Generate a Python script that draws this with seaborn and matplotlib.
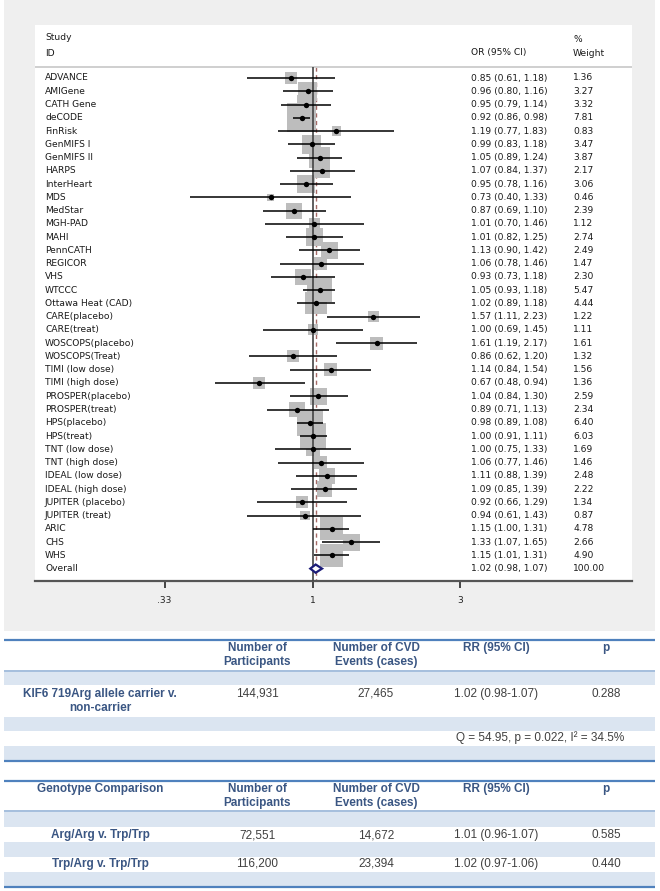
import numpy as np
import pandas as pd
import matplotlib.pyplot as plt
import matplotlib.transforms as mtransforms
from matplotlib.patches import Rectangle
import seaborn as sns

# forest plot data
studies = ["ADVANCE", "AMIGene", "CATH Gene", "deCODE", "FinRisk", "GenMIFS I",
           "GenMIFS II", "HARPS", "InterHeart", "MDS", "MedStar", "MGH-PAD", "MAHI",
           "PennCATH", "REGICOR", "VHS", "WTCCC", "Ottawa Heat (CAD)", "CARE(placebo)",
           "CARE(treat)", "WOSCOPS(placebo)", "WOSCOPS(Treat)", "TIMI (low dose)",
           "TIMI (high dose)", "PROSPER(placebo)", "PROSPER(treat)", "HPS(placebo)",
           "HPS(treat)", "TNT (low dose)", "TNT (high dose)", "IDEAL (low dose)",
           "IDEAL (high dose)", "JUPITER (placebo)", "JUPITER (treat)", "ARIC", "CHS", "WHS"]
odds = [0.85, 0.96, 0.95, 0.92, 1.19, 0.99, 1.05, 1.07, 0.95, 0.73, 0.87, 1.01, 1.01,
        1.13, 1.06, 0.93, 1.05, 1.02, 1.57, 1.00, 1.61, 0.86, 1.14, 0.67, 1.04, 0.89,
        0.98, 1.00, 1.00, 1.06, 1.11, 1.09, 0.92, 0.94, 1.15, 1.33, 1.15]
ci_lo = [0.61, 0.80, 0.79, 0.86, 0.77, 0.83, 0.89, 0.84, 0.78, 0.40, 0.69, 0.70, 0.82,
         0.90, 0.78, 0.73, 0.93, 0.89, 1.11, 0.69, 1.19, 0.62, 0.84, 0.48, 0.84, 0.71,
         0.89, 0.91, 0.75, 0.77, 0.88, 0.85, 0.66, 0.61, 1.00, 1.07, 1.01]
ci_hi = [1.18, 1.16, 1.14, 0.98, 1.83, 1.18, 1.24, 1.37, 1.16, 1.33, 1.10, 1.46, 1.25,
         1.42, 1.46, 1.18, 1.18, 1.18, 2.23, 1.45, 2.17, 1.20, 1.54, 0.94, 1.30, 1.13,
         1.08, 1.11, 1.33, 1.46, 1.39, 1.39, 1.29, 1.43, 1.31, 1.65, 1.31]
weights = [1.36, 3.27, 3.32, 7.81, 0.83, 3.47, 3.87, 2.17, 3.06, 0.46, 2.39, 1.12, 2.74,
           2.49, 1.47, 2.30, 5.47, 4.44, 1.22, 1.11, 1.61, 1.32, 1.56, 1.36, 2.59, 2.34,
           6.40, 6.03, 1.69, 1.46, 2.48, 2.22, 1.34, 0.87, 4.78, 2.66, 4.90]
overall = (1.02, 0.98, 1.07)
xticks = [0.33, 1, 3]
xtick_labels = [".33", "1", "3"]

# summary tables
t1_header = ["", "Number of\nParticipants", "Number of CVD\nEvents (cases)", "RR (95% CI)", "p"]
t1_row = ["KIF6 719Arg allele carrier v.\nnon-carrier", "144,931", "27,465", "1.02 (0.98-1.07)", "0.288"]
t1_note = "Q = 54.95, p = 0.022, I\u00b2 = 34.5%"
t2_header = ["Genotype Comparison", "Number of\nParticipants", "Number of CVD\nEvents (cases)", "RR (95% CI)", "p"]
t2_rows = [["Arg/Arg v. Trp/Trp", "72,551", "14,672", "1.01 (0.96-1.07)", "0.585"],
           ["Trp/Arg v. Trp/Trp", "116,200", "23,394", "1.02 (0.97-1.06)", "0.440"]]

df = pd.DataFrame({"study": studies, "or": odds, "lo": ci_lo, "hi": ci_hi, "w": weights})
df["row"] = np.arange(len(df))
n = len(df)

sns.set_style("white")
plt.rcParams["font.family"] = ["DejaVu Sans"]

W, H = 660, 891
fig = plt.figure(figsize=(6.6, 8.91), dpi=100)

def fx(px):
    return px / W

def fy(py):
    return 1 - py / H

# background canvas in pixel units
bg = fig.add_axes([0, 0, 1, 1])
bg.set_xlim(0, W)
bg.set_ylim(H, 0)
bg.axis("off")
bg.add_patch(Rectangle((4, 0), 651, 631, color="#efefef", lw=0))

# forest plot panel
top, bot, left, right = 25, 581, 35, 632
x1, scale = 313, 133.8       # pixel of OR=1, pixels per log unit
y0, dy = 78, 13.26           # first row pixel, row step
ax = fig.add_axes([fx(left), fy(bot), (right - left) / W, (bot - top) / H])
ax.set_facecolor("white")
ax.set_xscale("log")
ax.set_xlim(np.exp((left - x1) / scale), np.exp((right - x1) / scale))
ax.set_ylim((bot - y0) / dy, (top - y0) / dy)
for s in ["top", "left", "right"]:
    ax.spines[s].set_visible(False)
ax.spines["bottom"].set_color("#555555")
ax.spines["bottom"].set_linewidth(1.6)

sep = (67 - y0) / dy
ax.axhline(sep, color="#cccccc", lw=1.3)
ymax = (bot - y0) / dy

# reference lines
ax.vlines(overall[0], sep, ymax, colors="#a46a66", linestyles=(0, (3, 2.5)), lw=1.0, zorder=1)
ax.vlines(1, sep, ymax, colors="#444444", lw=1.2, zorder=3)

# weight boxes (area proportional to weight)
sns.scatterplot(data=df, x="or", y="row", size="w", sizes=(0, 440), size_norm=(0, 7.81),
                marker="s", color="#bdbdbd", linewidth=0, legend=False, ax=ax, zorder=2)
ax.hlines(df["row"], df["lo"], df["hi"], colors="black", lw=1.1, zorder=4)
sns.scatterplot(data=df, x="or", y="row", color="black", s=15, linewidth=0,
                legend=False, ax=ax, zorder=5)
ax.set_xlabel("")
ax.set_ylabel("")
ax.set_yticks([])
ax.set_xticks(xticks)
ax.set_xticklabels(xtick_labels)
ax.minorticks_off()
ax.tick_params(axis="x", bottom=True, direction="out", length=5, width=1.4, color="#444444",
               labelsize=6.5, labelcolor="#222222", pad=6)

# overall diamond
h = 0.31
ax.fill([overall[1], overall[0], overall[2], overall[0]], [n, n - h, n, n + h],
        facecolor="white", edgecolor="#1c1c78", lw=1.6, zorder=6)

# text columns
tr = mtransforms.blended_transform_factory(fig.transFigure, ax.transData)
tk = dict(fontsize=6.6, color="#1a1a1a", va="center", transform=tr)
ax.text(fx(45), (38 - y0) / dy, "Study", **tk)
ax.text(fx(45), (53 - y0) / dy, "ID", **tk)
ax.text(fx(471), (53 - y0) / dy, "OR (95% CI)", **tk)
ax.text(fx(573), (39 - y0) / dy, "%", **tk)
ax.text(fx(573), (53 - y0) / dy, "Weight", **tk)
for _, r in df.iterrows():
    ax.text(fx(45), r["row"], r["study"], **tk)
    ax.text(fx(471), r["row"], f"{r['or']:.2f} ({r['lo']:.2f}, {r['hi']:.2f})", **tk)
    ax.text(fx(573), r["row"], f"{r['w']:.2f}", **tk)
ax.text(fx(45), n, "Overall", **tk)
ax.text(fx(471), n, f"{overall[0]:.2f} ({overall[1]:.2f}, {overall[2]:.2f})", **tk)
ax.text(fx(573), n, "100.00", **tk)

# tables
col_x = [100, 257, 376, 496, 606]
hcol = "#3a5683"
dcol = "#404040"
band = "#dbe5f1"
tf = ["Liberation Sans", "DejaVu Sans"]

def band_at(y1, y2):
    bg.add_patch(Rectangle((4, y1), 651, y2 - y1, color=band, lw=0))

def header(ytop, labels):
    for x, lab in zip(col_x, labels):
        yy = ytop + 7 if "\n" in lab else ytop
        bg.text(x, yy, lab, ha="center", va="center", fontsize=8.5, fontweight="bold",
                color=hcol, family=tf, linespacing=1.15)

def row(yc, vals, ylab=None):
    for i, (x, v) in enumerate(zip(col_x, vals)):
        if i == 0:
            bg.text(x, ylab if ylab else yc, v, ha="center", va="center", fontsize=8.5,
                    fontweight="bold", color=hcol, family=tf, linespacing=1.15)
        else:
            bg.text(x, yc, v, ha="center", va="center", fontsize=8.5, color=dcol, family=tf)

# table 1
bg.hlines(640, 4, 655, color="#4f81bd", lw=1.6)
header(648, t1_header)
bg.hlines(671, 4, 655, color="#95b3d7", lw=1.2)
band_at(671.5, 685)
row(694, t1_row, ylab=701)
band_at(717, 731)
bg.text(540, 738, t1_note, ha="center", va="center", fontsize=8.5, color=dcol, family=tf)
band_at(746, 760)
bg.hlines(761, 4, 655, color="#4f81bd", lw=1.6)

# table 2
bg.hlines(781, 4, 655, color="#4f81bd", lw=1.6)
header(789, t2_header)
bg.hlines(811, 4, 655, color="#95b3d7", lw=1.2)
band_at(811.5, 827)
row(835, t2_rows[0])
band_at(842, 857)
row(864, t2_rows[1])
band_at(872, 886)
bg.hlines(886.5, 4, 655, color="#4f81bd", lw=1.6)

fig.savefig("out.png", dpi=100)
